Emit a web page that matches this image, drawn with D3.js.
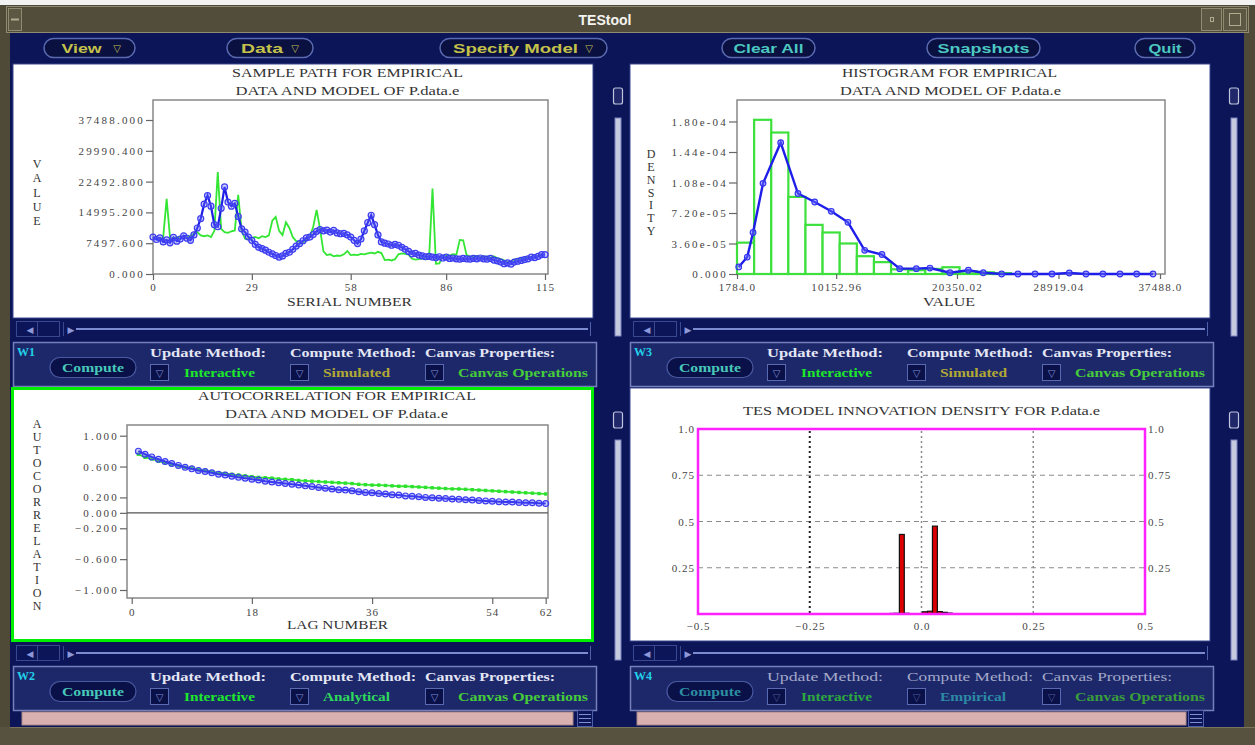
<!DOCTYPE html>
<html><head><meta charset="utf-8">
<script src="https://cdn.jsdelivr.net/npm/d3@7/dist/d3.min.js"></script>
<style>html,body{margin:0;padding:0;background:#4f4a37;overflow:hidden}svg{display:block}</style>
</head><body><svg id="c" width="1255" height="745"></svg>
<script>
// ================= DATA =================
const menuLabels = ["View", "Data", "Specify Model", "Clear All", "Snapshots", "Quit"];
const menuHasArrow = [true, true, true, false, false, false];

// Sample path (serial 0..115)
const sampleEmpirical = [8500,8700,8300,9000,18300,8800,8600,9000,8700,9200,9000,9300,9800,10200,9400,9200,9400,9000,10500,24800,
 11000,10200,10000,10400,10600,19300,10500,8600,8500,8800,9000,8700,9200,9000,9400,13000,13900,10500,9500,12600,
 11200,9000,8000,7800,7700,8200,9000,11500,15600,11000,5500,4600,4800,4300,4500,4400,4800,5600,4600,4700,
 4600,4900,4800,5000,5200,5000,5400,5100,3400,3500,3300,3600,4800,5000,4900,4700,3700,3500,3600,3800,
 3600,4000,20800,2500,2600,4400,4600,4500,4800,4700,8300,8200,4600,4300,4200,4400,4100,4300,4200,4000,
 4300,3900,3600,3300,2900,3100,3500,3700,3800,4000,4100,3900,4200,4400,4500,4600];
const sampleModel = [9000,8400,8800,7800,8300,7600,8900,8000,8500,9300,8700,8200,9500,11200,13500,17000,19100,16500,12000,11500,
 16000,21200,17500,16500,17200,14000,11000,10200,9000,8200,7200,6500,6200,5800,5300,4900,4500,4100,4400,5000,
 5300,6000,6800,7400,8100,8800,9000,9600,10400,10800,10500,10700,10200,10600,10000,9800,9900,9500,9000,8200,
 7400,8500,10500,12500,14300,12000,9500,7800,7500,7300,7000,7200,7000,6500,6000,5500,4900,5000,4600,4400,
 4200,4300,4100,4000,4200,3900,4100,3800,3900,3700,3600,3800,3700,3600,3800,3700,3900,3700,3600,3800,
 3400,3200,2900,2500,2700,2400,2900,3100,3300,3500,3700,4100,4000,4300,4700,4700];
const sampleYTicks = [0, 7497.6, 14995.2, 22492.8, 29990.4, 37488.0];
const sampleXTicks = [0, 29, 58, 86, 115];

// Histogram
const histBinStart = 1784.0;
const histBinWidth = 1445;
const histEmpirical = [3.7e-5,1.82e-4,1.67e-4,9.1e-5,5.8e-5,4.9e-5,3.6e-5,2.1e-5,1.4e-5,5.5e-6,
 4.5e-6,6.0e-6,8.0e-6,3.0e-6,2.0e-6,1.0e-6,0,0,0,0,0,0,0,0,0];
const histModelX = [1930,2650,3140,3980,5470,6930,8340,9740,11150,12560,14020,15520,16920,18070,19760,21310,
 22570,24120,25500,26940,28370,29830,31240,32670,34110,35520,36900];
const histModelY = [8.3e-6,2.0e-5,4.9e-5,1.07e-4,1.55e-4,9.5e-5,8.5e-5,7.4e-5,6.1e-5,2.8e-5,2.3e-5,6.3e-6,
 6.3e-6,7.0e-6,1.5e-6,4.4e-6,1.5e-6,0,0,0,0,1.2e-6,0,0,0,0,0];
const histYTicks = [0, 3.6e-5, 7.2e-5, 1.08e-4, 1.44e-4, 1.8e-4];
const histYLabels = ["0.000","3.60e-05","7.20e-05","1.08e-04","1.44e-04","1.80e-04"];
const histXTicks = [1784.0, 10152.96, 20350.02, 28919.04, 37488.0];
const histXLabels = ["1784.0","10152.96","20350.02","28919.04","37488.0"];

// Autocorrelation (lags 1..62)
const acfEmpirical = [0.76,0.72,0.70,0.67,0.65,0.63,0.61,0.59,0.58,0.56,0.55,0.53,0.52,0.51,0.50,0.49,0.48,0.47,0.46,0.455,
 0.45,0.44,0.435,0.43,0.42,0.415,0.41,0.405,0.40,0.395,0.39,0.385,0.38,0.37,0.365,0.36,0.36,0.355,0.35,0.345,
 0.345,0.34,0.335,0.33,0.325,0.32,0.315,0.31,0.31,0.305,0.30,0.295,0.29,0.285,0.28,0.275,0.27,0.265,0.26,0.255,0.25,0.245];
const acfModel = [0.80,0.76,0.725,0.695,0.665,0.64,0.615,0.59,0.57,0.55,0.535,0.52,0.50,0.49,0.475,0.46,0.45,0.435,0.425,0.41,
 0.40,0.39,0.38,0.37,0.36,0.35,0.34,0.33,0.32,0.31,0.30,0.295,0.285,0.275,0.265,0.26,0.25,0.245,0.235,0.23,
 0.22,0.215,0.21,0.20,0.195,0.19,0.185,0.18,0.175,0.17,0.165,0.16,0.155,0.15,0.145,0.14,0.14,0.135,0.13,0.13,0.125,0.12];
const acfYTicks = [1.0, 0.6, 0.2, 0.0, -0.2, -0.6, -1.0];
const acfYLabels = ["1.000","0.600","0.200","0.000","\u22120.200","\u22120.600","\u22121.000"];
const acfXTicks = [0, 18, 36, 54, 62];

// Innovation density
const innovCenters = [-0.066,-0.055,-0.044,-0.033,0.008,0.019,0.030,0.041,0.052,0.063];
const innovDensity = [0.003,0.004,0.43,0.004,0.012,0.015,0.475,0.013,0.009,0.005];
const innovBinWidth = 0.011;
const innovYTicks = [0.25, 0.5, 0.75, 1.0];
const innovYLabels = ["0.25","0.5","0.75","1.0"];
const innovXTicks = [-0.5, -0.25, 0, 0.25, 0.5];
const innovXLabels = ["\u22120.5","\u22120.25","0.0","0.25","0.5"];

// Control panels
const panelNames = ["W1","W2","W3","W4"];
const panelComputeMethod = ["Simulated","Analytical","Simulated","Empirical"];

// ================= DRAW =================
const SERIF = "'Liberation Serif','DejaVu Serif',serif";
const NAVY = '#0b1558';
const svg = d3.select('#c');

function T(g, x, y, s, o = {}) {
  const t = g.append('text').attr('x', x).attr('y', y).text(s)
    .attr('font-family', o.ff || SERIF).attr('font-size', o.fs || 11)
    .attr('fill', o.fill || '#333').attr('text-anchor', o.anchor || 'start');
  if (o.fw) t.attr('font-weight', o.fw);
  if (o.ls != null) t.attr('letter-spacing', o.ls);
  if (o.len) t.attr('textLength', o.len).attr('lengthAdjust', 'spacingAndGlyphs');
  return t;
}
function vlabel(g, x, yTop, yBot, s) {
  const n = s.length, step = (yBot - yTop) / (n - 1);
  s.split('').forEach((ch, i) => T(g, x, yTop + i * step + 4, ch, {anchor: 'middle', fs: 12, fill: '#333'}));
}
function styleAxis(ax, ls) {
  ax.select('.domain').remove();
  ax.selectAll('line').attr('stroke', '#666').attr('stroke-width', 1.2);
  ax.selectAll('text').attr('font-family', SERIF).attr('font-size', 11).attr('fill', '#444').attr('letter-spacing', ls);
}

// ---- window chrome ----
svg.append('rect').attr('width', 1255).attr('height', 745).attr('fill', '#4f4a37');
svg.append('rect').attr('width', 1255).attr('height', 5).attr('fill', '#f2f2f2');
svg.append('rect').attr('x', 6.5).attr('y', 6.5).attr('width', 1242).attr('height', 26).attr('fill', '#524d3a').attr('stroke', '#8f8a70');
svg.append('rect').attr('x', 8.5).attr('y', 8.5).attr('width', 13).attr('height', 22).attr('fill', '#5c5742').attr('stroke', '#8f8a70');
svg.append('line').attr('x1', 11).attr('x2', 19).attr('y1', 19.5).attr('y2', 19.5).attr('stroke', '#b0aa90').attr('stroke-width', 2);
svg.append('rect').attr('x', 1201.5).attr('y', 8.5).attr('width', 20).attr('height', 22).attr('fill', '#5c5742').attr('stroke', '#8f8a70');
svg.append('rect').attr('x', 1223.5).attr('y', 8.5).attr('width', 23).attr('height', 22).attr('fill', '#5c5742').attr('stroke', '#8f8a70');
svg.append('rect').attr('x', 1229.5).attr('y', 13.5).attr('width', 11).attr('height', 12).attr('fill', 'none').attr('stroke', '#b0aa90');
svg.append('rect').attr('x', 1210.5).attr('y', 17.5).attr('width', 3).attr('height', 4).attr('fill', 'none').attr('stroke', '#b0aa90');
T(svg, 605, 25, 'TEStool', {ff: "'Liberation Sans Narrow','Liberation Sans',sans-serif", fs: 14, fw: 'bold', fill: '#f4f4f0', anchor: 'middle'});
svg.append('rect').attr('x', 10).attr('y', 33).attr('width', 1234).attr('height', 694).attr('fill', NAVY);
svg.append('rect').attr('x', 0).attr('y', 727).attr('width', 1255).attr('height', 18).attr('fill', '#57523f');
svg.append('line').attr('x1', 10).attr('x2', 1255).attr('y1', 727.5).attr('y2', 727.5).attr('stroke', '#7a745c');

// ---- menu bar ----
const menuPill = [[44,135],[227,313],[440,607],[722,815],[927,1040],[1135,1195]];
const menuColor = ['#c4c24a','#c4c24a','#c4c24a','#4cc8c0','#4cc8c0','#4cc8c0'];
const menuTextLen = [40, 42, 125, 70, 92, 33];
menuLabels.forEach((lab, i) => {
  const [a, b] = menuPill[i];
  svg.append('rect').attr('x', a).attr('y', 38.5).attr('width', b - a).attr('height', 19).attr('rx', 9.5)
    .attr('fill', '#0a1040').attr('stroke', '#5a6ab0').attr('stroke-width', 1.5);
  const cx = menuHasArrow[i] ? (a + b) / 2 - 8 : (a + b) / 2;
  T(svg, cx, 53, lab, {ff: "'Liberation Sans Narrow','Liberation Sans',sans-serif", fs: 13, fw: 'bold', fill: menuColor[i], anchor: 'middle', len: menuTextLen[i]});
  if (menuHasArrow[i]) T(svg, b - 18, 52, '\u25BD', {ff: "'DejaVu Sans',sans-serif", fs: 10, fw: 'bold', fill: menuColor[i], anchor: 'middle'});
});

// ---- quadrant chrome ----
const cols = [13, 630], rows = [64, 388];
function hscroll(L, y) {
  const g = svg.append('g');
  g.append('rect').attr('x', L + 3.5).attr('y', y + 1.5).attr('width', 43).attr('height', 15).attr('fill', 'none').attr('stroke', '#3a4890');
  g.append('line').attr('x1', L + 24.5).attr('x2', L + 24.5).attr('y1', y + 2).attr('y2', y + 16).attr('stroke', '#3a4890');
  T(g, L + 17, y + 13, '\u25C0', {ff: "'DejaVu Sans',sans-serif", fs: 9, fill: '#8c98d8', anchor: 'middle'});
  T(g, L + 58, y + 13, '\u25B6', {ff: "'DejaVu Sans',sans-serif", fs: 9, fill: '#8c98d8', anchor: 'middle'});
  g.append('line').attr('x1', L + 50.5).attr('x2', L + 50.5).attr('y1', y + 2).attr('y2', y + 16).attr('stroke', '#3a4890');
  g.append('line').attr('x1', L + 63).attr('x2', L + 575).attr('y1', y + 9).attr('y2', y + 9).attr('stroke', '#7c8ad0').attr('stroke-width', 2);
  g.append('line').attr('x1', L + 577.5).attr('x2', L + 577.5).attr('y1', y + 2).attr('y2', y + 16).attr('stroke', '#5060a8');
}
function vscroll(x, yKnob, yTrack0, yTrack1) {
  svg.append('rect').attr('x', x - 4.5).attr('y', yKnob).attr('width', 9).attr('height', 16).attr('rx', 2)
    .attr('fill', '#20286a').attr('stroke', '#c0c4dc').attr('stroke-width', 1.2);
  svg.append('rect').attr('x', x - 3).attr('y', yTrack0).attr('width', 6).attr('height', yTrack1 - yTrack0)
    .attr('fill', '#c6cadf').attr('stroke', '#7a84c0').attr('stroke-width', 1);
}
function controlPanel(L, Tp, idx) {
  const dim = idx === 3;
  const g = svg.append('g');
  g.append('rect').attr('x', L + 0.5).attr('y', Tp + 0.5).attr('width', 583).attr('height', 44)
    .attr('fill', '#1d286b').attr('stroke', '#7480bb').attr('stroke-width', 1.5);
  T(g, L + 4, Tp + 14, panelNames[idx], {fs: 12, fw: 'bold', fill: '#22d0e8'});
  g.append('rect').attr('x', L + 37).attr('y', Tp + 15.5).attr('width', 86).attr('height', 20).attr('rx', 10)
    .attr('fill', '#0a1048').attr('stroke', '#4a5aa0').attr('stroke-width', 1.2);
  T(g, L + 80, Tp + 30, 'Compute', {fs: 12, fw: 'bold', fill: dim ? '#2c8ea0' : '#48c8b8', anchor: 'middle', len: 62});
  const hx = [137, 277, 412], vx = [171, 310, 445];
  const heads = ['Update Method:', 'Compute Method:', 'Canvas Properties:'];
  const hlen = [116, 126, 130];
  const vals = ['Interactive', panelComputeMethod[idx], 'Canvas Operations'];
  const vlen = [71, dim ? 66 : 67, 130];
  let vcol;
  if (dim) vcol = ['#2ea83e', '#2c8aa4', '#3a9e3a'];
  else vcol = ['#1ee82a', panelComputeMethod[idx] === 'Simulated' ? '#b2a834' : '#2ed85a', '#46cc3a'];
  hx.forEach((x, k) => {
    T(g, L + x, Tp + 15, heads[k], {fs: 12, fw: dim ? 'normal' : 'bold', fill: dim ? '#a4aac8' : '#e4e6f4', len: hlen[k]});
    g.append('rect').attr('x', L + x + 0.5).attr('y', Tp + 22.5).attr('width', 18).attr('height', 16)
      .attr('fill', '#0a1048').attr('stroke', '#5a6ab0');
    T(g, L + x + 9.5, Tp + 35, '\u25BD', {ff: "'DejaVu Sans',sans-serif", fs: 10, fill: dim ? '#505c98' : '#8090d8', anchor: 'middle'});
    T(g, L + vx[k], Tp + 35, vals[k], {fs: 12, fw: 'bold', fill: vcol[k], len: vlen[k]});
  });
}
cols.forEach((L, ci) => {
  rows.forEach((R, ri) => {
    svg.append('rect').attr('x', L).attr('y', R).attr('width', 580).attr('height', ri === 0 ? 254 : 253).attr('fill', '#ffffff')
      .attr('stroke', '#3a4890').attr('stroke-width', 1);
    hscroll(L, R + 256);
    controlPanel(L, R + 278, ci * 2 + ri);
  });
  const vx = ci === 0 ? 618 : 1234;
  vscroll(vx, 88, 118, 336);
  vscroll(vx, 412, 440, 660);
  svg.append('rect').attr('x', L + (ci === 0 ? 9 : 7)).attr('y', 712).attr('width', ci === 0 ? 551 : 549).attr('height', 13)
    .attr('fill', '#d8b0b0').attr('stroke', '#a88888');
  const bx = ci === 0 ? 577 : 1188;
  svg.append('rect').attr('x', bx + 0.5).attr('y', 710.5).attr('width', 15).attr('height', 16).attr('fill', NAVY).attr('stroke', '#5060a8');
  [714, 718, 722].forEach(yy => svg.append('line').attr('x1', bx + 2).attr('x2', bx + 14).attr('y1', yy + 0.5).attr('y2', yy + 0.5).attr('stroke', '#8090d0'));
});
svg.append('rect').attr('x', 12.5).attr('y', 388.5).attr('width', 580).attr('height', 252).attr('fill', 'none')
  .attr('stroke', '#00ee00').attr('stroke-width', 3);

// ================= CHART 1: SAMPLE PATH =================
{
  const g = svg.append('g');
  const x = d3.scaleLinear().domain([0, 115]).range([153, 545]);
  const y = d3.scaleLinear().domain([0, 37488]).range([274, 120]);
  g.append('rect').attr('x', 153).attr('y', 100).attr('width', 395).attr('height', 174).attr('fill', 'none').attr('stroke', '#888').attr('stroke-width', 1.5);
  styleAxis(g.append('g').attr('transform', 'translate(153,0)').call(d3.axisLeft(y).tickValues(sampleYTicks).tickFormat(d3.format('.3f')).tickSize(7).tickPadding(1)), 2.2);
  styleAxis(g.append('g').attr('transform', 'translate(0,274)').call(d3.axisBottom(x).tickValues(sampleXTicks).tickFormat(d3.format('d')).tickSize(6).tickPadding(3)), 1);
  const idx = sampleEmpirical.map((_, i) => i);
  g.append('path').datum(idx).attr('fill', 'none').attr('stroke', '#33e633').attr('stroke-width', 1.8)
    .attr('d', d3.line().x(i => x(i)).y(i => y(sampleEmpirical[i])));
  g.append('path').datum(idx).attr('fill', 'none').attr('stroke', '#1e1ee8').attr('stroke-width', 2.2)
    .attr('d', d3.line().x(i => x(i)).y(i => y(sampleModel[i])));
  g.selectAll('circle.m').data(idx).enter().append('circle').attr('cx', i => x(i)).attr('cy', i => y(sampleModel[i])).attr('r', 3)
    .attr('fill', 'rgba(110,110,255,0.35)').attr('stroke', '#3c3cf0').attr('stroke-width', 1.2);
  T(g, 347.5, 77, 'SAMPLE PATH FOR EMPIRICAL', {fs: 12, anchor: 'middle', len: 231});
  T(g, 347.5, 95, 'DATA AND MODEL OF P.data.e', {fs: 12, anchor: 'middle', len: 224});
  T(g, 349.5, 306, 'SERIAL NUMBER', {fs: 12, anchor: 'middle', len: 125});
  vlabel(g, 37, 164, 221, 'VALUE');
}

// ================= CHART 2: HISTOGRAM =================
{
  const g = svg.append('g');
  const x = d3.scaleLinear().domain([1784, 37488]).range([737, 1160]);
  const y = d3.scaleLinear().domain([0, 1.8e-4]).range([274, 121.5]);
  g.append('rect').attr('x', 737).attr('y', 100).attr('width', 428).attr('height', 174).attr('fill', 'none').attr('stroke', '#888').attr('stroke-width', 1.5);
  const bins = histEmpirical.map((d, i) => ({x0: histBinStart + i * histBinWidth, x1: histBinStart + (i + 1) * histBinWidth, d})).filter(b => b.d > 0);
  g.selectAll('rect.bar').data(bins).enter().append('rect').attr('class', 'bar')
    .attr('x', b => x(b.x0)).attr('width', b => x(b.x1) - x(b.x0)).attr('y', b => y(b.d)).attr('height', b => y(0) - y(b.d))
    .attr('fill', 'white').attr('stroke', '#3de03d').attr('stroke-width', 2.2);
  styleAxis(g.append('g').attr('transform', 'translate(737,0)').call(d3.axisLeft(y).tickValues(histYTicks).tickFormat((d, i) => histYLabels[i]).tickSize(8).tickPadding(1)), 2.2);
  styleAxis(g.append('g').attr('transform', 'translate(0,274)').call(d3.axisBottom(x).tickValues(histXTicks).tickFormat((d, i) => histXLabels[i]).tickSize(5).tickPadding(4)), 1.2);
  const idx = histModelX.map((_, i) => i);
  g.append('path').datum(idx).attr('fill', 'none').attr('stroke', '#1e1ee8').attr('stroke-width', 2.4)
    .attr('d', d3.line().x(i => x(histModelX[i])).y(i => y(histModelY[i])));
  g.selectAll('circle.m').data(idx).enter().append('circle').attr('cx', i => x(histModelX[i])).attr('cy', i => y(histModelY[i])).attr('r', 2.8)
    .attr('fill', 'rgba(110,110,255,0.45)').attr('stroke', '#3434f0').attr('stroke-width', 1.2);
  T(g, 949.5, 77, 'HISTOGRAM FOR EMPIRICAL', {fs: 12, anchor: 'middle', len: 215});
  T(g, 950.5, 95, 'DATA AND MODEL OF P.data.e', {fs: 12, anchor: 'middle', len: 221});
  T(g, 949, 306, 'VALUE', {fs: 12, anchor: 'middle', len: 52});
  vlabel(g, 651, 154, 231, 'DENSITY');
}

// ================= CHART 3: AUTOCORRELATION =================
{
  const g = svg.append('g');
  const x = d3.scaleLinear().domain([0, 62]).range([131.7, 545.7]);
  const y = d3.scaleLinear().domain([-1, 1]).range([590, 435.7]);
  g.append('rect').attr('x', 127).attr('y', 425).attr('width', 421).attr('height', 173).attr('fill', 'none').attr('stroke', '#888').attr('stroke-width', 1.5);
  g.append('line').attr('x1', 127).attr('x2', 548).attr('y1', y(0)).attr('y2', y(0)).attr('stroke', '#555').attr('stroke-width', 1.2);
  styleAxis(g.append('g').attr('transform', 'translate(127,0)').call(d3.axisLeft(y).tickValues(acfYTicks).tickFormat((d, i) => acfYLabels[i]).tickSize(7).tickPadding(1)), 2.2);
  styleAxis(g.append('g').attr('transform', 'translate(0,598)').call(d3.axisBottom(x).tickValues(acfXTicks).tickFormat(d3.format('d')).tickSize(6).tickPadding(4)), 1);
  const idx = acfEmpirical.map((_, i) => i);
  g.append('path').datum(idx).attr('fill', 'none').attr('stroke', '#33e633').attr('stroke-width', 1.8)
    .attr('d', d3.line().x(i => x(i + 1)).y(i => y(acfEmpirical[i])));
  g.selectAll('rect.e').data(idx).enter().append('rect').attr('x', i => x(i + 1) - 1.7).attr('y', i => y(acfEmpirical[i]) - 1.7)
    .attr('width', 3.4).attr('height', 3.4).attr('fill', '#2ee02e');
  g.append('path').datum(idx).attr('fill', 'none').attr('stroke', '#1e1ee8').attr('stroke-width', 2)
    .attr('d', d3.line().x(i => x(i + 1)).y(i => y(acfModel[i])));
  g.selectAll('circle.m').data(idx).enter().append('circle').attr('cx', i => x(i + 1)).attr('cy', i => y(acfModel[i])).attr('r', 2.9)
    .attr('fill', 'rgba(110,110,255,0.35)').attr('stroke', '#3c3cf0').attr('stroke-width', 1.2);
  T(g, 337, 400, 'AUTOCORRELATION FOR EMPIRICAL', {fs: 12, anchor: 'middle', len: 278});
  T(g, 336.5, 418, 'DATA AND MODEL OF P.data.e', {fs: 12, anchor: 'middle', len: 223});
  T(g, 337.5, 629, 'LAG NUMBER', {fs: 12, anchor: 'middle', len: 101});
  vlabel(g, 37, 424, 606, 'AUTOCORRELATION');
}

// ================= CHART 4: INNOVATION DENSITY =================
{
  const g = svg.append('g');
  const x = d3.scaleLinear().domain([-0.5, 0.5]).range([698, 1145]);
  const y = d3.scaleLinear().domain([0, 1]).range([614, 429]);
  innovYTicks.filter(v => v < 1).forEach(v => {
    g.append('line').attr('x1', 698).attr('x2', 1145).attr('y1', y(v)).attr('y2', y(v))
      .attr('stroke', '#8a8a8a').attr('stroke-width', 1.2).attr('stroke-dasharray', '5,4');
  });
  innovXTicks.filter(v => v > -0.5 && v < 0.5).forEach(v => {
    g.append('line').attr('x1', x(v)).attr('x2', x(v)).attr('y1', 431).attr('y2', 613)
      .attr('stroke', v < 0 ? '#222' : '#888').attr('stroke-width', v < 0 ? 2 : 1.5).attr('stroke-dasharray', '2,3');
  });
  g.selectAll('rect.bar').data(innovCenters).enter().append('rect')
    .attr('x', (c) => x(c - innovBinWidth / 2)).attr('width', x(innovBinWidth) - x(0))
    .attr('y', (c, i) => y(innovDensity[i])).attr('height', (c, i) => y(0) - y(innovDensity[i]))
    .attr('fill', '#dd0000').attr('stroke', '#111').attr('stroke-width', 1.2);
  g.append('rect').attr('x', 698).attr('y', 429).attr('width', 447).attr('height', 185).attr('fill', 'none')
    .attr('stroke', '#ff22ff').attr('stroke-width', 2.5);
  styleAxis(g.append('g').attr('transform', 'translate(698,0)').call(d3.axisLeft(y).tickValues(innovYTicks).tickFormat((d, i) => innovYLabels[i]).tickSize(0).tickPadding(3)), 1);
  styleAxis(g.append('g').attr('transform', 'translate(1145,0)').call(d3.axisRight(y).tickValues(innovYTicks).tickFormat((d, i) => innovYLabels[i]).tickSize(0).tickPadding(3)), 1);
  styleAxis(g.append('g').attr('transform', 'translate(0,614)').call(d3.axisBottom(x).tickValues(innovXTicks).tickFormat((d, i) => innovXLabels[i]).tickSize(0).tickPadding(8)), 1);
  T(g, 921.5, 415, 'TES MODEL INNOVATION DENSITY FOR P.data.e', {fs: 12, anchor: 'middle', len: 357});
}
</script></body></html>
